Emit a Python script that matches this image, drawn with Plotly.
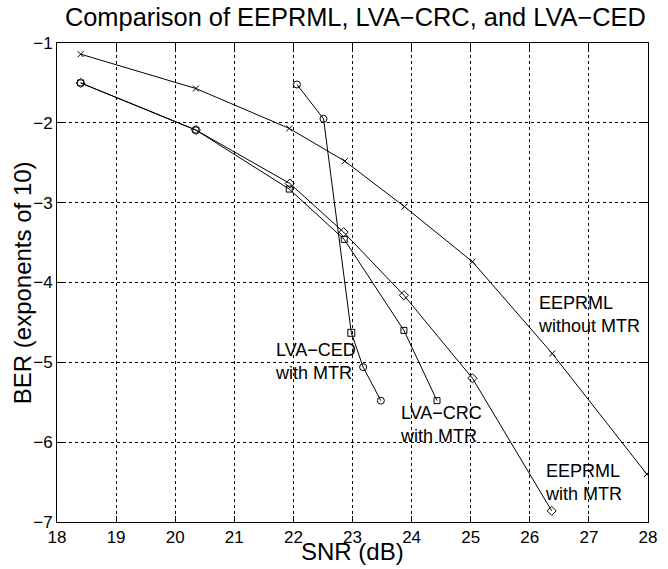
import plotly.graph_objects as go

# EEPRML without MTR (x markers)
eep_no_x = [18.40, 20.35, 21.93, 22.87, 23.88, 25.03, 26.38, 27.98]
eep_no_y = [-1.14, -1.57, -2.07, -2.48, -3.05, -3.74, -4.89, -6.40]

# EEPRML with MTR (diamond markers)
eep_w_x = [18.40, 20.35, 21.94, 22.85, 23.87, 25.03, 26.37]
eep_w_y = [-1.50, -2.09, -2.76, -3.37, -4.16, -5.20, -6.86]

# LVA-CRC with MTR (square markers)
crc_x = [18.40, 20.35, 21.93, 22.86, 23.87, 24.43]
crc_y = [-1.50, -2.09, -2.83, -3.46, -4.60, -5.48]

# LVA-CED with MTR (circle markers)
ced_x = [22.06, 22.51, 22.98, 23.18, 23.48]
ced_y = [-1.52, -1.95, -4.63, -5.06, -5.48]
ced_symbols = ["circle-open", "circle-open", "square-open", "circle-open", "circle-open"]

x_ticks = list(range(18, 29))
y_ticks = list(range(-7, 0))

labels = [
    ("LVA−CED<br>with MTR", 21.65, -4.985),
    ("LVA−CRC<br>with MTR", 23.77, -5.775),
    ("EEPRML<br>without MTR", 26.11, -4.405),
    ("EEPRML<br>with MTR", 26.22, -6.51),
]

line_style = dict(color="black", width=1)
fig = go.Figure()
fig.add_trace(go.Scatter(x=eep_no_x, y=eep_no_y, mode="lines+markers", line=line_style,
                         marker=dict(symbol="x-thin-open", size=6, line=dict(color="black", width=1))))
fig.add_trace(go.Scatter(x=eep_w_x, y=eep_w_y, mode="lines+markers", line=line_style,
                         marker=dict(symbol="diamond-open", size=7, color="black", line=dict(color="black", width=1))))
fig.add_trace(go.Scatter(x=crc_x, y=crc_y, mode="lines+markers", line=line_style,
                         marker=dict(symbol="square-open", size=6, color="black", line=dict(color="black", width=1))))
fig.add_trace(go.Scatter(x=ced_x, y=ced_y, mode="lines+markers", line=line_style,
                         marker=dict(symbol=ced_symbols, size=7, color="black", line=dict(color="black", width=1))))

for txt, xx, yy in labels:
    fig.add_annotation(x=xx, y=yy, text=txt, showarrow=False, xanchor="left", yanchor="middle",
                       align="left", font=dict(size=18, color="black"))

# axis titles placed as paper annotations for precise position
fig.add_annotation(x=0.5, y=-0.0626, xref="paper", yref="paper", text="SNR (dB)", showarrow=False,
                   xanchor="center", yanchor="middle", borderpad=0, font=dict(size=24, color="black"))
fig.add_annotation(x=-0.058, y=0.5, xref="paper", yref="paper", text="BER (exponents of 10)",
                   showarrow=False, textangle=-90, xanchor="center", yanchor="middle", borderpad=0,
                   font=dict(size=24, color="black"))

font_family = "Liberation Sans, Arial, sans-serif"
axis_common = dict(
    showline=True, linecolor="black", linewidth=1, mirror="allticks",
    ticks="inside", ticklen=6, tickcolor="black",
    showgrid=True, gridcolor="black", gridwidth=1, griddash="dot",
    zeroline=False, tickfont=dict(size=17, color="black"),
)
fig.update_xaxes(range=[18, 28], tickvals=x_ticks, **axis_common)
fig.update_yaxes(range=[-7, -1], tickvals=y_ticks, **axis_common)

fig.update_layout(
    width=668, height=569,
    margin=dict(l=57, r=11, t=43, b=47),
    paper_bgcolor="white", plot_bgcolor="white",
    showlegend=False,
    font=dict(family=font_family, color="black"),
    title=dict(text="Comparison of EEPRML, LVA−CRC, and LVA−CED", x=0.532, xanchor="center",
               y=1 - 17 / 569, yanchor="middle", yref="container", font=dict(size=25.4, color="black")),
)

fig.write_html("out.html", config={"displayModeBar": False},
               post_script="document.body.style.margin='0';document.body.style.overflow='hidden';")
